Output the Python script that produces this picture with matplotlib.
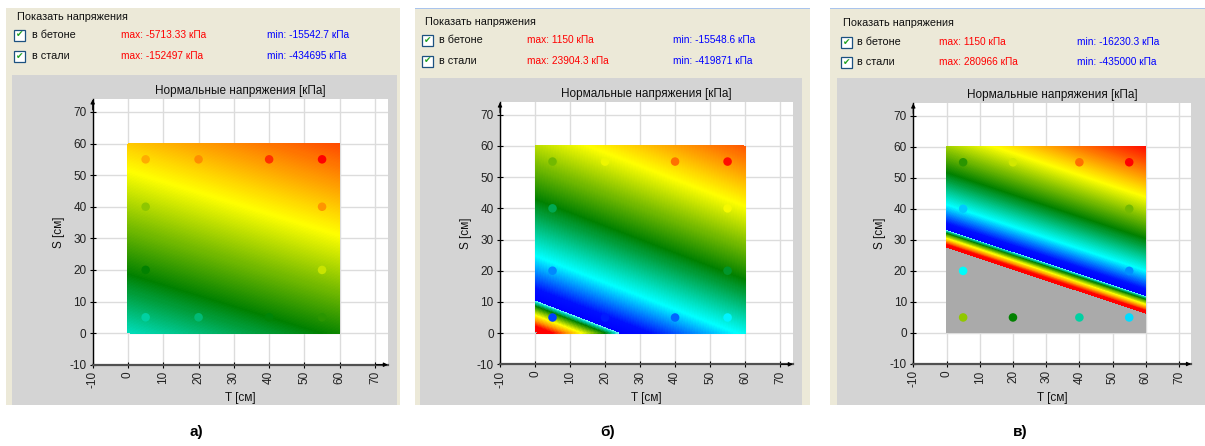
import numpy as np
import matplotlib
matplotlib.use('Agg')
import matplotlib.pyplot as plt
from matplotlib.colors import LinearSegmentedColormap, TwoSlopeNorm, Normalize
from matplotlib.patches import Rectangle

plt.rcParams['font.family'] = ['Liberation Sans', 'DejaVu Sans']
plt.rcParams['axes.unicode_minus'] = False

# --- dati ---
PANEL_TAGS = ['а)', 'б)', 'в)']

# deformazione del calcestruzzo agli angoli della sezione (permille)
# righe: S = 0, S = 60 ; colonne: T = 0, T = 60
CORNER_T = [0, 60]
CORNER_S = [0, 60]
EPS_A = [[-0.888, -1.570], [-2.890, -3.570]]
EPS_B = [[0.477, -0.718], [-2.304, -3.500]]
EPS_V = [[2.685, 0.952], [-2.198, -3.930]]

# barre d'armatura
BAR_T = [5, 20, 40, 55, 5, 55, 5, 55, 5, 20, 40, 55]
BAR_S = [55, 55, 55, 55, 40, 40, 20, 20, 5, 5, 5, 5]
STEEL_A = [-330000, -348000, -405000, -435000, -230000, -344000,
           -164000, -257000, -106000, -122000, -161000, -183000]
STEEL_B = [-217000, -274000, -365000, -426000, -135000, -278000,
           -46000, -148000, 30000, -22000, -39000, -70000]
STEEL_V = [-183000, -261000, -365000, -435000, -61000, -218000,
           74000, -48000, 231000, 164000, 106000, 65000]

CONC_MAX = ['max: -5713.33 кПа', 'max: 1150 кПа', 'max: 1150 кПа']
CONC_MIN = ['min: -15542.7 кПа', 'min: -15548.6 кПа', 'min: -16230.3 кПа']
STEEL_MAX = ['max: -152497 кПа', 'max: 23904.3 кПа', 'max: 280966 кПа']
STEEL_MIN = ['min: -434695 кПа', 'min: -419871 кПа', 'min: -435000 кПа']

EPS_CU = -4.0      # fondo scala compressione
EPS_CR = 0.466     # fessurazione
FY = 435000

# --- colormap ---
COMP_STOPS = [(0.0, '#0000ff'), (0.044, '#0010ff'), (0.166, '#00ffff'),
              (0.376, '#008000'), (0.65, '#ffff00'), (0.875, '#ff5500'),
              (1.0, '#ff0000')]
TENS_STOPS = [(0.0, '#80ffff'), (0.06, '#00d0c0'), (0.18, '#008000'),
              (0.47, '#ffff00'), (0.64, '#ff9900'), (0.82, '#ff0000'),
              (1.0, '#ff0000')]

stops = [(0.5 * (1 - f), c) for f, c in reversed(COMP_STOPS)]
stops += [(0.5 + 0.5 * max(g, 0.004), c) for g, c in TENS_STOPS]
cmap_c = LinearSegmentedColormap.from_list('conc', stops, N=1024)
cmap_c.set_over('#aaaaaa')
cmap_c.set_under('#ff0000')
norm_c = TwoSlopeNorm(vmin=EPS_CU, vcenter=0.0, vmax=EPS_CR)
levels = np.concatenate([np.linspace(EPS_CU, 0, 260), np.linspace(0, EPS_CR, 60)[1:]])

cmap_s = LinearSegmentedColormap.from_list('steel', COMP_STOPS, N=512)
norm_s = Normalize(0, FY)

W, H = 1205, 446
fig = plt.figure(figsize=(W / 100, H / 100), dpi=100)


def box(x0, y0, x1, y1, fc, ec='none', lw=0, z=-10):
    fig.add_artist(Rectangle((x0 / W, 1 - y1 / H), (x1 - x0) / W, (y1 - y0) / H,
                             transform=fig.transFigure, facecolor=fc,
                             edgecolor=ec, lw=lw, zorder=z))


def txt(x, y, s, **kw):
    fig.text(x / W, 1 - y / H, s, va='center', **kw)


LAYOUT = [
    dict(beige=(6, 8, 400, 405), gray=(12, 75, 397, 405), ax=(92.7, 99.3, 387.7, 364.7),
         head=(17, 17), rows=(35, 56), cb=14, lab=32, mx=121, mn=267, line=False, tag=196),
    dict(beige=(415, 9, 810, 405), gray=(420, 78, 802, 405), ax=(500, 102.3, 792.7, 364.3),
         head=(425, 22), rows=(40, 61), cb=422, lab=439, mx=527, mn=673, line=True, tag=608),
    dict(beige=(830, 9, 1205, 405), gray=(837, 78, 1205, 405), ax=(913.3, 103.3, 1191, 364),
         head=(843, 23), rows=(42, 62), cb=841, lab=857, mx=939, mn=1077, line=True, tag=1020),
]

fields = [EPS_A, EPS_B, EPS_V]
steels = [STEEL_A, STEEL_B, STEEL_V]

for i, L in enumerate(LAYOUT):
    box(*L['beige'], '#ece9d8', z=-12)
    if L['line']:
        bx0, by0, bx1, _ = L['beige']
        box(bx0, by0 - 1.5, bx1, by0, '#a9c4ec', z=-11)
    box(*L['gray'], '#d4d4d4', z=-11)

    # intestazione
    txt(*L['head'], 'Показать напряжения', fontsize=7.8, color='#101010')
    for y, name, mx, mn in zip(L['rows'], ['в бетоне', 'в стали'],
                               [CONC_MAX[i], STEEL_MAX[i]], [CONC_MIN[i], STEEL_MIN[i]]):
        box(L['cb'], y - 5.5, L['cb'] + 11, y + 5.5, 'white', ec='#1c5180', lw=0.9, z=2)
        fig.text((L['cb'] + 5.5) / W, 1 - y / H, '✔', ha='center', va='center',
                 fontsize=6.5, color='#21a121', family='DejaVu Sans', zorder=3)
        txt(L['lab'], y, name, fontsize=7.8, color='#101010')
        txt(L['mx'], y, mx, fontsize=7.3, color='#ff0000')
        txt(L['mn'], y, mn, fontsize=7.3, color='#0000ff')

    x0, y0, x1, y1 = L['ax']
    ax = fig.add_axes([x0 / W, 1 - y1 / H, (x1 - x0) / W, (y1 - y0) / H])
    ax.set_facecolor('white')
    ax.contourf(CORNER_T, CORNER_S, np.array(fields[i]), levels=levels,
                cmap=cmap_c, norm=norm_c, extend='max', antialiased=False)
    ax.scatter(BAR_T, BAR_S, c=np.abs(steels[i]), cmap=cmap_s, norm=norm_s,
               s=38, linewidths=0, zorder=3)

    ax.set_xlim(-10, 73.6)
    ax.set_ylim(-10, 74)
    ax.set_xticks(range(-10, 71, 10))
    ax.set_yticks(range(-10, 71, 10))
    ax.grid(color='#dcdcdc', lw=1)
    ax.set_axisbelow(True)
    for s in ['top', 'right']:
        ax.spines[s].set_visible(False)
    ax.spines['left'].set_color('black')
    ax.spines['left'].set_linewidth(1)
    ax.spines['bottom'].set_color('#505050')
    ax.spines['bottom'].set_linewidth(1.6)
    ax.tick_params(direction='inout', length=5, width=0.8, labelsize=8.5,
                   labelcolor='#222222', pad=2)
    ax.tick_params(axis='x', labelrotation=90)
    ax.set_title('Нормальные напряжения [кПа]', fontsize=8.5, pad=3.5, color='#111111')
    ax.set_xlabel('T [см]', fontsize=8.5, labelpad=3, color='#111111')
    ax.set_ylabel('S [см]', fontsize=8.5, labelpad=3, color='#111111')
    ax.annotate('', xy=(0, 1.01), xytext=(0, 0.95), xycoords='axes fraction',
                arrowprops=dict(arrowstyle='-|>', color='black', lw=0.8, mutation_scale=6))
    ax.annotate('', xy=(1.01, 0), xytext=(0.95, 0), xycoords='axes fraction',
                arrowprops=dict(arrowstyle='-|>', color='black', lw=0.8, mutation_scale=6))

    fig.text(L['tag'] / W, 1 - 432 / H, PANEL_TAGS[i], ha='center', va='center',
             fontsize=11, fontweight='bold', color='black')

fig.savefig('out.png', dpi=100, facecolor='white')
